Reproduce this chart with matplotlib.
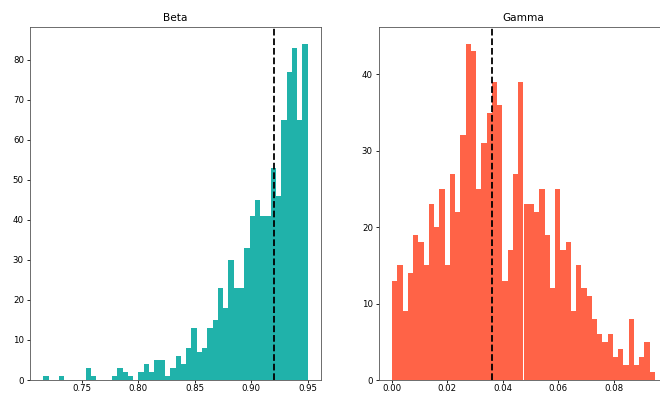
import numpy as np
import matplotlib.pyplot as plt

# histogram counts (50 bins each)
beta_range = (0.716, 0.950)
beta_counts = [1, 0, 0, 1, 0, 0, 0, 0, 3, 1,
               0, 0, 0, 1, 3, 2, 1, 0, 2, 4,
               2, 5, 5, 1, 3, 6, 4, 8, 13, 7,
               8, 13, 15, 23, 18, 30, 23, 23, 33, 41,
               45, 41, 41, 53, 46, 65, 77, 83, 65, 84]
beta_median = 0.920

gamma_range = (0.0002, 0.0949)
gamma_counts = [13, 15, 9, 14, 19, 18, 15, 23, 20, 25,
                15, 27, 22, 32, 44, 43, 25, 31, 35, 39,
                36, 13, 17, 27, 39, 23, 23, 22, 25, 19,
                12, 25, 17, 18, 9, 15, 12, 11, 8, 6,
                5, 6, 3, 4, 2, 8, 2, 3, 5, 1]
gamma_median = 0.0363

plt.rcParams['font.size'] = 6.2
plt.rcParams['axes.linewidth'] = 0.6
plt.rcParams['xtick.major.size'] = 2.0
plt.rcParams['ytick.major.size'] = 2.2
plt.rcParams['xtick.major.width'] = 0.6
plt.rcParams['ytick.major.width'] = 0.6
plt.rcParams['xtick.major.pad'] = 1.0
plt.rcParams['ytick.major.pad'] = 2.2
plt.rcParams['axes.edgecolor'] = '#555555'

W, H = 660, 394
fig = plt.figure(figsize=(W / 100, H / 100), dpi=100)


def px_axes(left, top, right, bottom):
    return fig.add_axes([left / W, 1 - bottom / H, (right - left) / W, (bottom - top) / H])


ax1 = px_axes(30, 27, 321, 380)
ax2 = px_axes(379, 27, 668, 380)

for ax, rng, counts, med, color, title in [
        (ax1, beta_range, beta_counts, beta_median, '#20B2AA', 'Beta'),
        (ax2, gamma_range, gamma_counts, gamma_median, '#FF6347', 'Gamma')]:
    edges = np.linspace(rng[0], rng[1], len(counts) + 1)
    ax.hist(edges[:-1], bins=edges, weights=counts, color=color)
    ax.axvline(med, color='black', linestyle='--', linewidth=1.3)
    ax.set_title(title, fontsize=7.6, pad=4)

fig.savefig('out.png', dpi=100)
